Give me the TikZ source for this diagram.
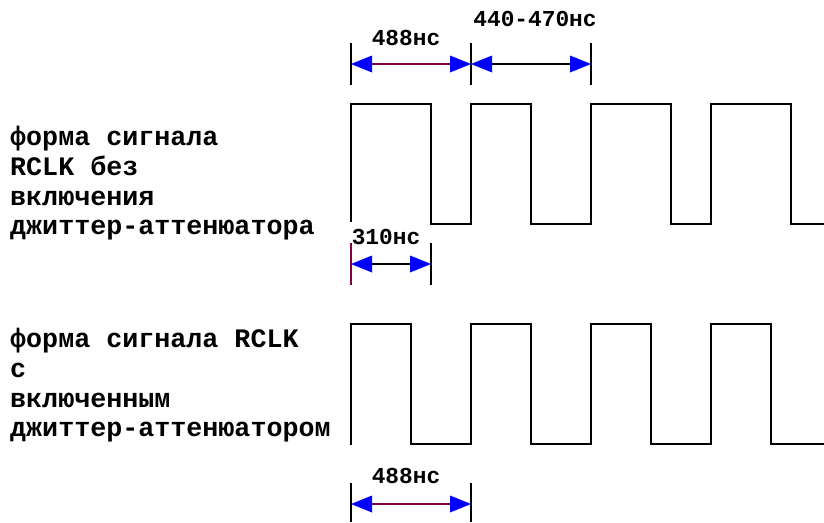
\documentclass[tikz,border=0pt]{standalone}
\usepackage{fontspec}
\setmainfont{Liberation Mono}
\usetikzlibrary{arrows.meta}
\definecolor{dimred}{RGB}{128,0,64}
\definecolor{tipblue}{RGB}{0,0,255}
\tikzset{
  wave/.style={line width=1.6pt, line join=miter},
  tick/.style={line width=1.6pt},
  dimline/.style={line width=1.6pt, {Triangle[length=21pt,width=17pt,color=tipblue,fill=tipblue,line width=0pt]}-{Triangle[length=21pt,width=17pt,color=tipblue,fill=tipblue,line width=0pt]}},
  dimlabel/.style={anchor=base, inner sep=0pt, font=\bfseries\fontsize{22.8}{26}\selectfont},
  sidetext/.style={anchor=north west, inner sep=0pt, align=left, font=\bfseries\fontsize{26.7}{29.8}\selectfont},
}
\begin{document}
\begin{tikzpicture}[x=1pt,y=-1pt]
\useasboundingbox (0,0) rectangle (824,522);

% side texts
\node[sidetext] (t1) at (10,126) {форма сигнала\\RCLK без\\включения\\джиттер-аттенюатора};
\node[sidetext] (t2) at (10,328) {форма сигнала RCLK\\с\\включенным\\джиттер-аттенюатором};

% top waveform
\draw[wave] (351,222) |- (431,104) |- (471,224) |- (531,104) |- (591,224) |- (671,104) |- (711,224) |- (791,104) |- (824,224);
% bottom waveform
\draw[wave] (351,445) |- (411,324) |- (471,444) |- (531,324) |- (591,444) |- (651,324) |- (711,444) |- (771,324) |- (824,444);

% top dimension
\coordinate (a1) at (351,64);
\coordinate (a2) at (471,64);
\coordinate (a3) at (591,64);
\draw[tick] (351,43) -- (351,85);
\draw[tick] (471,43) -- (471,85);
\draw[tick] (591,43) -- (591,85);
\draw[dimline, dimred] (a1) -- (a2);
\draw[dimline, black] (a2) -- (a3);
\node[dimlabel] (l1) at (406,45) {488нс};
\node[dimlabel] (l2) at (535,27) {440-470нс};

% 310 dimension
\coordinate (b1) at (351,264);
\coordinate (b2) at (431,264);
\draw[tick, dimred] (351,243) -- (351,285);
\draw[tick] (431,243) -- (431,285);
\draw[dimline, black] (b1) -- (b2);
\node[dimlabel] (l3) at (386,244) {310нс};

% bottom dimension
\coordinate (c1) at (351,504);
\coordinate (c2) at (471,504);
\draw[tick] (351,483) -- (351,522);
\draw[tick] (471,483) -- (471,522);
\draw[dimline, dimred] (c1) -- (c2);
\node[dimlabel] (l4) at (406,483) {488нс};
\end{tikzpicture}
\end{document}
